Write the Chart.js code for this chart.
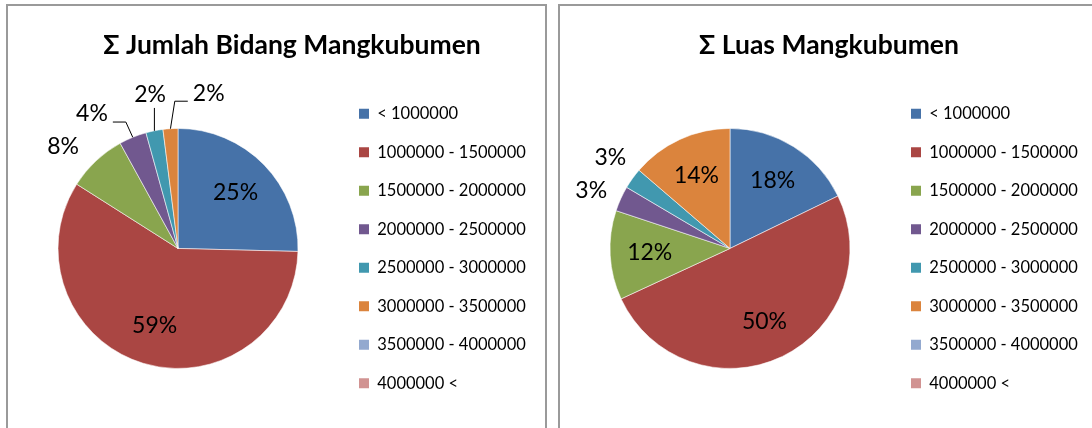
<!DOCTYPE html>
<html>
<head>
<meta charset="utf-8">
<script src="https://cdn.jsdelivr.net/npm/chart.js@4.4.1/dist/chart.umd.min.js"></script>
<style>
  html, body { margin: 0; padding: 0; background: #ffffff; width: 1092px; height: 428px; overflow: hidden; }
  body { position: relative; }
  .frame { position: absolute; top: 4px; height: 500px; border: 2px solid #9a9a9a; box-sizing: border-box; }
  #f1 { left: 6px; width: 541px; }
  #f2 { left: 558px; width: 600px; }
  canvas { position: absolute; }
  #c1 { left: 8px; top: 6px; }
  #c2 { left: 560px; top: 6px; }
</style>
</head>
<body>
<div class="frame" id="f1"></div>
<div class="frame" id="f2"></div>
<canvas id="c1" width="540" height="422"></canvas>
<canvas id="c2" width="532" height="422"></canvas>
<script>
// ---- data ----
const categories = [
  '< 1000000', '1000000 - 1500000', '1500000 - 2000000', '2000000 - 2500000',
  '2500000 - 3000000', '3000000 - 3500000', '3500000 - 4000000', '4000000 <'
];
const jumlahBidangPct = [25.4, 58.6, 8.0, 3.7, 2.3, 2.0, 0, 0];
const luasPct = [17.8, 50.3, 12.0, 3.4, 2.8, 13.7, 0, 0];
const titleJumlah = 'Σ Jumlah Bidang Mangkubumen';
const titleLuas = 'Σ Luas Mangkubumen';
const sliceColors = ['#4672A8', '#AA4643', '#89A54E', '#71588F', '#4198AF', '#DB843D', '#93A9CF', '#D19392'];

const FAMILY = "Lato, 'DejaVu Sans', sans-serif";
const LEGEND_FONT = 16.5, LEGEND_BOX = 10, LEGEND_PAD = 22;

// shifts the title horizontally after layout
const titleShiftPlugin = {
  id: 'titleShift',
  afterLayout(chart, args, opts) {
    const t = chart.titleBlock;
    if (t && opts.dx) { t.left += opts.dx; t.right += opts.dx; }
  }
};

// percentage labels, inside or outside with leader lines
const pieLabelPlugin = {
  id: 'pieLabels',
  afterDatasetsDraw(chart, args, opts) {
    const ctx = chart.ctx;
    const meta = chart.getDatasetMeta(0);
    const values = chart.data.datasets[0].data;
    const total = values.reduce((s, v) => s + v, 0);
    ctx.save();
    ctx.font = opts.size + 'px ' + FAMILY;
    const capH = opts.size * 0.72;
    const items = [];
    meta.data.forEach((arc, i) => {
      const v = values[i];
      if (!v) return;
      const pct = v / total * 100;
      const text = Math.round(pct) + '%';
      const p = arc.getProps(['x', 'y', 'startAngle', 'endAngle', 'outerRadius'], true);
      const ang = (p.startAngle + p.endAngle) / 2;
      const ux = Math.cos(ang), uy = Math.sin(ang);
      const inside = pct >= opts.insideMin;
      const d = inside ? p.outerRadius * opts.insideRatio : p.outerRadius + opts.outsideGap;
      items.push({
        text, ang, inside, w: ctx.measureText(text).width, h: capH,
        x: p.x + ux * d, y: p.y + uy * d,
        px: p.x + ux * p.outerRadius, py: p.y + uy * p.outerRadius
      });
    });
    const out = items.filter(it => !it.inside).sort((a, b) => a.ang - b.ang);
    const overlaps = (a, b) =>
      (a.w + b.w) / 2 + 2 * opts.padX - Math.abs(a.x - b.x) > 0 &&
      (a.h + b.h) / 2 + 2 * opts.padY - Math.abs(a.y - b.y) > 0;
    for (let iter = 0; iter < 500; iter++) {
      let moved = false;
      for (let i = 0; i < out.length; i++) {
        for (let j = i + 1; j < out.length; j++) {
          const a = out[i], b = out[j];
          if (!overlaps(a, b)) continue;
          const m = (a.ang + b.ang) / 2;
          const tx = -Math.sin(m), ty = Math.cos(m);
          a.x -= tx * 0.5; a.y -= ty * 0.5;
          b.x += tx * 0.5; b.y += ty * 0.5;
          moved = true;
        }
      }
      if (!moved) break;
    }
    ctx.strokeStyle = '#000';
    ctx.lineWidth = 1;
    out.forEach(it => {
      const hw = it.w / 2, hh = it.h / 2;
      const nx = Math.max(it.x - hw, Math.min(it.px, it.x + hw));
      const ny = Math.max(it.y - hh, Math.min(it.py, it.y + hh));
      const dist = Math.hypot(it.px - nx, it.py - ny);
      if (dist <= opts.leaderMin) return;
      ctx.beginPath();
      ctx.moveTo(it.px, it.py);
      if (Math.abs(it.px - it.x) < hw) {
        const s = Math.sign(it.py - it.y) || 1;
        ctx.lineTo(it.px, it.y + s * (hh + 5));
      } else {
        const s = Math.sign(it.px - it.x);
        const ex = it.x + s * (hw + 5), ey = it.y + opts.size * 0.35;
        ctx.lineTo(ex + s * 13, ey);
        ctx.lineTo(ex, ey);
      }
      ctx.stroke();
    });
    ctx.fillStyle = '#000';
    ctx.textAlign = 'center';
    ctx.textBaseline = 'middle';
    items.forEach(it => ctx.fillText(it.text, it.x, it.y));
    ctx.restore();
  }
};

// width Chart.js will give the right-hand legend
function legendWidth() {
  const ctx = document.createElement('canvas').getContext('2d');
  ctx.font = LEGEND_FONT + 'px ' + FAMILY;
  const maxText = Math.max(...categories.map(c => ctx.measureText(c).width));
  return LEGEND_PAD + LEGEND_BOX + LEGEND_FONT / 2 + maxText + 10;
}

// legendLeft / titleCenter are in canvas coordinates
function makePie(canvasId, title, values, legendLeft, titleCenter) {
  const canvas = document.getElementById(canvasId);
  const W = canvas.width;
  const padLeft = 11;
  const lw = legendWidth();
  const padRight = W - legendLeft - lw;
  const titleDx = titleCenter - (padLeft + W - padRight) / 2;
  return new Chart(canvas, {
    type: 'pie',
    data: {
      labels: categories,
      datasets: [{
        data: values,
        backgroundColor: sliceColors,
        borderColor: 'rgba(255,255,255,0.55)',
        borderWidth: 1
      }]
    },
    options: {
      responsive: false,
      animation: false,
      events: [],
      radius: 120,
      layout: { padding: { left: padLeft, right: padRight, top: 0, bottom: 14.5 } },
      plugins: {
        tooltip: { enabled: false },
        title: {
          display: true,
          text: title,
          color: '#000',
          font: { family: FAMILY, size: 26.5, weight: 'bold', lineHeight: 1.2 },
          padding: { top: 23.1, bottom: 22.5 }
        },
        titleShift: { dx: titleDx },
        legend: {
          position: 'right',
          align: 'end',
          labels: {
            boxWidth: LEGEND_BOX,
            boxHeight: LEGEND_BOX,
            padding: LEGEND_PAD,
            color: '#000',
            font: { family: FAMILY, size: LEGEND_FONT },
            generateLabels(chart) {
              const base = Chart.overrides.pie.plugins.legend.labels.generateLabels(chart);
              return base.map(l => Object.assign(l, { lineWidth: 0 }));
            }
          }
        },
        pieLabels: {
          size: 23, insideMin: 10, insideRatio: 0.67, outsideGap: 30,
          padX: 13, padY: 8, leaderMin: 19
        }
      }
    },
    plugins: [titleShiftPlugin, pieLabelPlugin]
  });
}

makePie('c1', titleJumlah, jumlahBidangPct, 329, 284);
makePie('c2', titleLuas, luasPct, 329, 269);
</script>
</body>
</html>
